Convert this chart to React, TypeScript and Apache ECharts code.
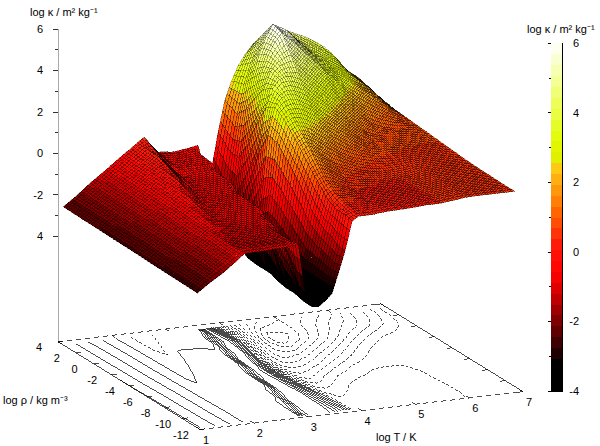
import React, { useEffect, useRef } from "react";
import * as echarts from "echarts";

const LOG_T = [1, 1.25, 1.5, 1.75, 1.875, 2, 2.125, 2.25, 2.375, 2.5, 2.625, 2.75, 2.875, 3, 3.125, 3.25, 3.375, 3.5, 3.625, 3.75, 3.875, 4, 4.125, 4.25, 4.375, 4.5, 4.75, 5, 5.25, 5.5, 5.75, 6, 6.25, 6.5, 6.75, 6.9];
const LOG_RHO = [3.4, 2, 1, 0, -1, -2, -3, -4, -5, -6, -7, -8, -9, -10, -11, -11.7];
// log kappa, one row per LOG_RHO value, one column per LOG_T value
const LOG_KAPPA = [
  [-2.43, -1.96, -1.43, -0.97, -0.72, -0.47, -0.23, 0, 0.24, 0.48, 0.08, -0.32, -0.35, -0.4, -0.38, -0.33, -0.28, -0.22, -4, -1.5, 0.3, 1.8, 2.7, 3.4, 3.9, 4.3, 4.8, 5.0, 4.7, 4.4, 4.0, 3.45, 2.6, 2.1, 1.35, 0.9],
  [-2.45, -1.97, -1.49, -1.0, -0.75, -0.51, -0.27, -0.03, 0.21, 0.11, -0.25, -0.42, -0.42, -0.42, -0.4, -0.38, -0.36, -2.0, -4, -2.6, -0.3, 1.5, 2.9, 3.9, 4.7, 5.3, 5.3, 5.0, 4.4, 3.9, 3.4, 2.95, 2.45, 1.9, 1.25, 0.88],
  [-2.46, -1.98, -1.5, -1.02, -0.77, -0.53, -0.29, -0.05, 0.2, -0.13, -0.42, -0.45, -0.45, -0.44, -0.44, -0.43, -0.42, -2.6, -4, -2.9, -0.3, 2.0, 3.5, 4.6, 5.4, 5.95, 5.6, 4.9, 4.2, 3.6, 3.0, 2.6, 2.1, 1.6, 1.1, 0.85],
  [-2.47, -1.99, -1.51, -1.03, -0.78, -0.54, -0.3, -0.06, 0.0, -0.33, -0.55, -0.58, -0.55, -0.54, -0.52, -0.5, -1.2, -3.9, -4, -2.0, 0.7, 2.8, 4.0, 4.8, 5.4, 5.8, 5.2, 4.5, 3.85, 3.15, 2.45, 1.9, 1.5, 1.15, 0.9, 0.82],
  [-2.48, -2.0, -1.52, -1.04, -0.8, -0.56, -0.32, -0.08, -0.22, -0.48, -0.6, -0.62, -0.6, -0.59, -0.57, -0.55, -2.6, -4, -3.5, -0.8, 1.9, 3.5, 4.3, 4.7, 4.9, 5.0, 4.3, 3.7, 3.1, 2.4, 1.8, 1.25, 0.95, 0.85, 0.8, 0.78],
  [-2.49, -2.01, -1.53, -1.05, -0.81, -0.57, -0.33, -0.16, -0.42, -0.6, -0.65, -0.66, -0.64, -0.63, -0.61, -0.6, -3.6, -4, -2.5, 0.8, 2.9, 3.8, 4.2, 4.3, 4.25, 4.1, 3.5, 2.9, 2.3, 1.7, 1.15, 0.9, 0.8, 0.77, 0.75, 0.74],
  [-2.5, -2.02, -1.54, -1.07, -0.83, -0.59, -0.35, -0.36, -0.58, -0.68, -0.7, -0.7, -0.68, -0.67, -0.65, -1.2, -3.95, -3.6, -1.2, 1.9, 3.2, 3.6, 3.75, 3.7, 3.5, 3.3, 2.7, 2.2, 1.65, 1.15, 0.85, 0.75, 0.72, 0.7, 0.7, 0.7],
  [-2.51, -2.03, -1.56, -1.08, -0.84, -0.61, -0.37, -0.54, -0.68, -0.73, -0.74, -0.74, -0.72, -0.7, -0.68, -2.4, -4, -3.0, -0.7, 1.8, 2.9, 3.1, 3.1, 3.0, 2.8, 2.6, 2.0, 1.55, 1.15, 0.85, 0.72, 0.68, 0.67, 0.66, 0.66, 0.66],
  [-2.52, -2.05, -1.57, -1.1, -0.86, -0.62, -0.53, -0.68, -0.76, -0.78, -0.78, -0.78, -0.76, -0.74, -0.72, -3.2, -4, -3.1, -1.0, 1.3, 2.4, 2.6, 2.5, 2.3, 2.05, 1.8, 1.3, 0.95, 0.75, 0.6, 0.58, 0.62, 0.62, 0.62, 0.62, 0.62],
  [-2.54, -2.07, -1.6, -1.12, -0.89, -0.65, -0.7, -0.8, -0.83, -0.84, -0.83, -0.82, -0.8, -0.78, -0.76, -3.7, -4, -3.3, -1.4, 0.8, 1.9, 2.1, 1.9, 1.6, 1.35, 1.1, 0.85, 0.6, 0.45, 0.45, 0.48, 0.56, 0.58, 0.58, 0.58, 0.58],
  [-2.55, -2.08, -1.61, -1.14, -0.9, -0.72, -0.8, -0.87, -0.89, -0.9, -0.88, -0.86, -0.84, -0.82, -1.4, -3.9, -4, -3.4, -1.8, 0.2, 1.3, 1.5, 1.35, 1.1, 0.9, 0.7, 0.5, 0.4, 0.38, 0.38, 0.42, 0.53, 0.55, 0.56, 0.56, 0.56],
  [-2.56, -2.09, -1.62, -1.15, -0.92, -0.84, -0.89, -0.92, -0.94, -0.94, -0.92, -0.9, -0.87, -0.85, -2.8, -4, -4, -3.6, -2.2, -0.5, 0.8, 0.95, 0.85, 0.7, 0.55, 0.4, 0.36, 0.34, 0.34, 0.36, 0.42, 0.52, 0.54, 0.54, 0.54, 0.54],
  [-2.57, -2.1, -1.63, -1.16, -0.95, -0.94, -0.96, -0.97, -0.97, -0.97, -0.95, -0.93, -0.9, -1.3, -3.6, -4, -3.95, -3.5, -2.3, -0.9, 0.3, 0.6, 0.55, 0.45, 0.38, 0.33, 0.33, 0.33, 0.34, 0.36, 0.42, 0.51, 0.52, 0.53, 0.53, 0.53],
  [-2.58, -2.11, -1.65, -1.18, -0.97, -0.97, -0.97, -0.97, -0.97, -0.96, -0.94, -0.92, -0.9, -2.0, -3.8, -4, -3.9, -3.5, -2.4, -1.1, 0.1, 0.4, 0.38, 0.35, 0.32, 0.3, 0.31, 0.32, 0.34, 0.36, 0.42, 0.5, 0.52, 0.52, 0.52, 0.52],
  [-2.59, -2.13, -1.67, -1.2, -0.95, -0.94, -0.93, -0.92, -0.91, -0.9, -0.89, -0.88, -0.86, -3.0, -3.9, -4, -3.85, -3.45, -2.5, -1.4, 0.1, 0.25, 0.25, 0.24, 0.25, 0.28, 0.3, 0.31, 0.35, 0.36, 0.43, 0.5, 0.51, 0.51, 0.51, 0.51],
  [-2.6, -2.14, -1.73, -1.23, -0.96, -0.95, -0.94, -0.93, -0.92, -0.9, -0.88, -0.85, -0.8, -3.2, -3.9, -3.95, -3.7, -3.4, -2.4, -1.35, 0, 0.2, 0.2, 0.2, 0.24, 0.27, 0.29, 0.31, 0.36, 0.36, 0.43, 0.51, 0.52, 0.52, 0.52, 0.52],
];
const CONTOUR_LEVELS = [-3.5, -3, -2.5, -2, -1.5, -1, -0.5, 0, 0.5, 1, 1.5, 2, 2.5, 3, 3.5, 4, 4.5, 5, 5.5];
const T_TICKS = [1, 2, 3, 4, 5, 6, 7];
const RHO_TICKS = [4, 2, 0, -2, -4, -6, -8, -10, -12];
const KAPPA_TICK_LABELS: Record<string, string> = { "6": "6", "4": "4", "2": "2", "0": "0", "-2": "-2", "-4": "4" };
const BAR_TICK_LABELS: Record<string, string> = { "6": "6", "4": "4", "2": "2", "0": "0", "-2": "-2", "-4": "-4" };

const FLOOR_Z = -9.108;
const Z_MIN = -4;
const Z_MAX = 6;
const FONT = "'Liberation Sans', Arial, sans-serif";

const PALETTE: [number, number[]][] = [
  [-4, [0, 0, 0]], [-3.2, [0, 0, 0]], [-1, [225, 0, 0]], [-0.6, [255, 0, 0]], [0.2, [255, 25, 10]],
  [1, [255, 90, 0]], [2.4, [255, 200, 20]], [2.55, [225, 235, 0]], [3.2, [225, 250, 0]], [4.5, [240, 255, 110]], [6, [255, 255, 255]],
];
const BAND = 10 / 32;
function bandColor(z: number): string {
  const b = Math.min(31, Math.max(0, Math.floor((z - Z_MIN) / BAND)));
  const m = Z_MIN + (b + 0.5) * BAND;
  for (let i = 0; i < PALETTE.length - 1; i++) {
    const [a, ca] = PALETTE[i];
    const [c, cb] = PALETTE[i + 1];
    if (m <= c) {
      const f = (m - a) / (c - a);
      return `rgb(${ca.map((v, k) => Math.round(v + (cb[k] - v) * f)).join(",")})`;
    }
  }
  return "#fff";
}

// oblique view: shear of (log T, log rho) onto the plane of the hidden x axis and the log kappa axis
function project(t: number, r: number, z: number): [number, number] {
  return [t - 1 + 0.1649 * (4 - r), z + 0.305 * (t - 1) - 0.265 * (4 - r)];
}

type Pt = [number, number];
function contourLines(level: number): Pt[][] {
  const segs: { a: string; b: string }[] = [];
  const pos: Record<string, Pt> = {};
  const cross = (i1: number, j1: number, i2: number, j2: number): string | null => {
    const z1 = LOG_KAPPA[i1][j1];
    const z2 = LOG_KAPPA[i2][j2];
    if (z1 < level === z2 < level) return null;
    const f = (level - z1) / (z2 - z1);
    const key = `${i1},${j1},${i2},${j2}`;
    pos[key] = [LOG_T[j1] + (LOG_T[j2] - LOG_T[j1]) * f, LOG_RHO[i1] + (LOG_RHO[i2] - LOG_RHO[i1]) * f];
    return key;
  };
  for (let i = 0; i < LOG_RHO.length - 1; i++) {
    for (let j = 0; j < LOG_T.length - 1; j++) {
      const e = [cross(i, j, i, j + 1), cross(i, j + 1, i + 1, j + 1), cross(i + 1, j, i + 1, j + 1), cross(i, j, i + 1, j)].filter(Boolean) as string[];
      if (e.length === 2) segs.push({ a: e[0], b: e[1] });
      if (e.length === 4) {
        segs.push({ a: e[0], b: e[1] });
        segs.push({ a: e[2], b: e[3] });
      }
    }
  }
  const used = segs.map(() => false);
  const lines: Pt[][] = [];
  const grow = (start: string, line: string[]) => {
    let cur = start;
    for (;;) {
      const k = segs.findIndex((s, n) => !used[n] && (s.a === cur || s.b === cur));
      if (k < 0) return;
      used[k] = true;
      cur = segs[k].a === cur ? segs[k].b : segs[k].a;
      line.push(cur);
    }
  };
  segs.forEach((s, n) => {
    if (used[n]) return;
    used[n] = true;
    const fwd = [s.b];
    grow(s.b, fwd);
    const back: string[] = [];
    grow(s.a, back);
    lines.push([...back.reverse(), s.a, ...fwd].map((k) => pos[k]));
  });
  return lines;
}

function App() {
  const ref = useRef<HTMLDivElement>(null);
  useEffect(() => {
    const chart = echarts.init(ref.current!, undefined, { renderer: "svg" });

    const surfaceCells: number[][] = [];
    for (let i = 0; i < LOG_RHO.length - 1; i++) {
      for (let j = LOG_T.length - 2; j >= 0; j--) surfaceCells.push([i, j]);
    }
    const renderCell = (_: any, api: any) => {
      const i = api.value(0);
      const j = api.value(1);
      const [t0, t1] = [LOG_T[j], LOG_T[j + 1]];
      const [r0, r1] = [LOG_RHO[i], LOG_RHO[i + 1]];
      const [a, b, c, d] = [LOG_KAPPA[i][j], LOG_KAPPA[i][j + 1], LOG_KAPPA[i + 1][j], LOG_KAPPA[i + 1][j + 1]];
      const nT = Math.max(1, Math.round((t1 - t0) / 0.045));
      const nR = Math.max(1, Math.round((r0 - r1) / 0.28));
      const at = (p: number, q: number) => {
        const z = (a * (1 - p) + b * p) * (1 - q) + (c * (1 - p) + d * p) * q;
        return { z, xy: api.coord(project(t0 + (t1 - t0) * p, r0 + (r1 - r0) * q, z)) };
      };
      const children: any[] = [];
      for (let q = 0; q < nR; q++) {
        for (let p = nT - 1; p >= 0; p--) {
          const v = [at(p / nT, q / nR), at((p + 1) / nT, q / nR), at((p + 1) / nT, (q + 1) / nR), at(p / nT, (q + 1) / nR)];
          const mean = (v[0].z + v[1].z + v[2].z + v[3].z) / 4;
          children.push({
            type: "polygon",
            silent: true,
            shape: { points: v.map((o) => o.xy) },
            style: { fill: bandColor(mean), stroke: mean < 2.5 ? "rgba(0,0,0,0.65)" : "rgba(0,0,0,0.45)", lineWidth: 0.5 },
          });
        }
      }
      return { type: "group", children };
    };

    const contours: { level: number; pts: Pt[] }[] = [];
    CONTOUR_LEVELS.forEach((level) => contourLines(level).forEach((pts) => contours.push({ level, pts })));
    const renderContour = (_: any, api: any) => {
      const c = contours[api.value(0)];
      return {
        type: "polyline",
        silent: true,
        shape: { points: c.pts.map((p) => api.coord(project(p[0], p[1], FLOOR_Z))) },
        style: { fill: "none", stroke: "#000", lineWidth: 0.7, lineDash: c.level >= 0 ? [3, 2] : undefined },
      };
    };

    const renderFrame = (_: any, api: any) => {
      const P = (t: number, r: number, z = FLOOR_Z) => api.coord(project(t, r, z));
      const seg = (a: number[], b: number[], stroke: string, lineDash?: number[], lineWidth = 0.7) => ({
        type: "line",
        silent: true,
        shape: { x1: a[0], y1: a[1], x2: b[0], y2: b[1] },
        style: { stroke, lineDash, lineWidth },
      });
      const label = (text: string, xy: number[], dx: number, dy: number) => ({
        type: "text",
        silent: true,
        x: xy[0] + dx,
        y: xy[1] + dy,
        style: { text, fontSize: 11, fontFamily: FONT, fill: "#000", align: "center", verticalAlign: "middle" },
      });
      const children: any[] = [
        seg(P(1, 4, Z_MIN), P(1, 4), "#aaa", undefined, 1),
        seg(P(1, 4), P(7, 4), "#000", [5, 4]),
        seg(P(1, -12), P(7, -12), "#000", [5, 4]),
        seg(P(1, 4), P(1, -12), "#000"),
        seg(P(7, 4), P(7, -12), "#000"),
      ];
      T_TICKS.forEach((t) => {
        const f = P(t, -12);
        const n = P(t, -11.6);
        children.push(seg(f, n, "#000"));
        children.push(seg(P(t, 4), P(t, 3.6), "#000"));
        children.push(label(String(t), f, 6, 10));
      });
      RHO_TICKS.forEach((r) => {
        const f = P(1, r);
        children.push(seg(f, P(1.1, r), "#000"));
        children.push(seg(P(7, r), P(6.9, r), "#000"));
        children.push(label(String(r), f, -19, 5));
      });
      return { type: "group", children };
    };

    const barLevels: number[] = [];
    for (let k = 0; k < 32; k++) barLevels.push(Z_MIN + k * BAND);
    const renderBar = (_: any, api: any) => {
      const z = api.value(0);
      const a = api.coord([0, z]);
      const b = api.coord([1, z + BAND]);
      return {
        type: "rect",
        silent: true,
        shape: { x: a[0], y: b[1], width: b[0] - a[0], height: a[1] - b[1] + 0.5 },
        style: { fill: bandColor(z + BAND / 2) },
      };
    };

    chart.setOption({
      animation: false,
      backgroundColor: "#fff",
      grid: [
        { left: 58, top: 29, width: 465, height: 207 },
        { left: 551, top: 43, width: 11, height: 348, show: true, borderColor: "#000", borderWidth: 1, backgroundColor: "transparent" },
      ],
      xAxis: [
        { type: "value", gridIndex: 0, min: 0, max: 8.638, show: false },
        { type: "value", gridIndex: 1, min: 0, max: 1, show: false },
      ],
      yAxis: [
        {
          type: "value", gridIndex: 0, min: Z_MIN, max: Z_MAX, interval: 2,
          axisLine: { show: true, lineStyle: { color: "#aaa", width: 1 } },
          axisTick: { show: true, length: 5, lineStyle: { color: "#333", width: 1 } },
          minorTick: { show: true, splitNumber: 2, length: 3, lineStyle: { color: "#333", width: 1 } },
          splitLine: { show: false },
          axisLabel: { margin: 15, fontSize: 11, fontFamily: FONT, color: "#000", formatter: (v: number) => KAPPA_TICK_LABELS[String(v)] ?? "" },
        },
        {
          type: "value", gridIndex: 1, min: Z_MIN, max: Z_MAX, interval: 2, position: "right",
          axisLine: { show: false },
          axisTick: { show: true, inside: true, length: 3, lineStyle: { color: "#000", width: 1 } },
          minorTick: { show: true, splitNumber: 2, length: 2, lineStyle: { color: "#000", width: 1 } },
          splitLine: { show: false },
          axisLabel: { align: "right", margin: 17, fontSize: 11, fontFamily: FONT, color: "#000", formatter: (v: number) => BAR_TICK_LABELS[String(v)] ?? "" },
        },
      ],
      graphic: [
        { type: "text", left: 30, top: 6, style: { text: "log κ / m² kg⁻¹", fontSize: 11, fontFamily: FONT, fill: "#000" } },
        { type: "text", left: 527, top: 23, style: { text: "log κ / m² kg⁻¹", fontSize: 11, fontFamily: FONT, fill: "#000" } },
        { type: "text", left: 3, top: 394, style: { text: "log ρ / kg m⁻³", fontSize: 11, fontFamily: FONT, fill: "#000" } },
        { type: "text", left: 376, top: 431, style: { text: "log T / K", fontSize: 11, fontFamily: FONT, fill: "#000" } },
      ],
      series: [
        { type: "custom", xAxisIndex: 0, yAxisIndex: 0, data: [[0, 0]], renderItem: renderFrame, silent: true, z: 1 },
        { type: "custom", xAxisIndex: 0, yAxisIndex: 0, data: contours.map((_, k) => [k, 0]), renderItem: renderContour, silent: true, z: 2, progressive: 0 },
        { type: "custom", xAxisIndex: 0, yAxisIndex: 0, data: surfaceCells, renderItem: renderCell, silent: true, z: 3, progressive: 0 },
        { type: "custom", xAxisIndex: 1, yAxisIndex: 1, data: barLevels.map((z) => [z, 0]), renderItem: renderBar, silent: true, z: 1 },
      ],
    });
    return () => chart.dispose();
  }, []);
  return <div ref={ref} style={{ position: "fixed", left: 0, top: 0, width: 600, height: 446, shapeRendering: "crispEdges" }} />;
}

export default App;
